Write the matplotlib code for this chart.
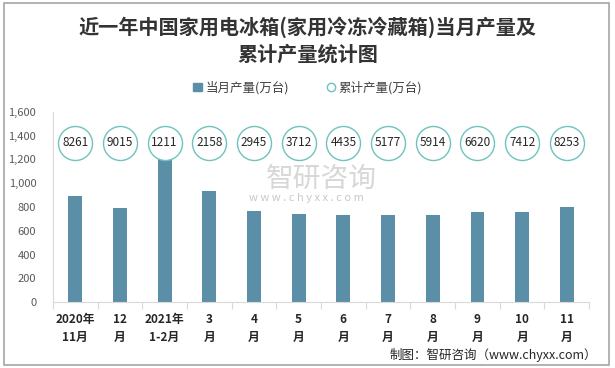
import matplotlib.pyplot as plt
from matplotlib.patches import Rectangle
from matplotlib.lines import Line2D
from matplotlib.ticker import FuncFormatter

plt.rcParams['font.family'] = ['Noto Sans CJK SC', 'DejaVu Sans']

# Data
months = ["2020年\n11月", "12\n月", "2021年\n1-2月", "3\n月", "4\n月", "5\n月",
          "6\n月", "7\n月", "8\n月", "9\n月", "10\n月", "11\n月"]
monthly = [893, 792, 1211, 937, 766, 741, 733, 733, 733, 758, 758, 800]
cumulative = [8261, 9015, 1211, 2158, 2945, 3712, 4435, 5177, 5914, 6620, 7412, 8253]

BAR_COLOR = "#5B8FA7"
RING_COLOR = "#6DC3BD"
RING_Y = 1340

fig = plt.figure(figsize=(6.15, 3.68), dpi=100)
ax = fig.add_axes([0.086, 0.179, 0.872, 0.517])

x = list(range(len(months)))
ax.bar(x, monthly, width=0.31, color=BAR_COLOR, zorder=2)

# Cumulative values shown as labelled rings
ax.plot(x, [RING_Y] * len(x), linestyle="none", marker="o", markersize=24.5,
        markerfacecolor="white", markeredgecolor=RING_COLOR, markeredgewidth=1.0, zorder=3)
for xi, v in zip(x, cumulative):
    ax.text(xi, RING_Y, str(v), ha="center", va="center", fontsize=8.5, color="#262626", zorder=4)

ax.set_xlim(-0.5, len(months) - 0.5)
ax.set_ylim(0, 1600)
ax.set_yticks(range(0, 1601, 200))
ax.yaxis.set_major_formatter(FuncFormatter(lambda v, p: f"{int(v):,}"))
ax.tick_params(axis="y", length=0, labelsize=8, labelcolor="#595959", pad=12)

# x ticks: marks at category boundaries, labels at centres
ax.set_xticks([i - 0.5 for i in range(len(months) + 1)])
ax.set_xticklabels([])
ax.tick_params(axis="x", which="major", length=5, color="#D9D9D9")
ax.set_xticks(x, minor=True)
ax.set_xticklabels(months, minor=True, fontsize=8.5, fontweight="bold", color="#262626",
                   linespacing=1.45)
ax.tick_params(axis="x", which="minor", length=0, pad=8)

for side in ["top", "right"]:
    ax.spines[side].set_visible(False)
ax.spines["left"].set_color("#D9D9D9")
ax.spines["bottom"].set_color("#D9D9D9")

# Title
fig.text(0.5, 0.889, "近一年中国家用电冰箱(家用冷冻冷藏箱)当月产量及\n累计产量统计图", ha="center",
         va="center", fontsize=14.5, fontweight="bold", color="#333333", linespacing=1.32)

# Legend
handles = [Rectangle((0, 0), 1, 1, color=BAR_COLOR),
           Line2D([], [], linestyle="none", marker="o", markersize=6,
                  markerfacecolor="white", markeredgecolor=RING_COLOR)]
fig.legend(handles, ["当月产量(万台)", "累计产量(万台)"], loc="center", bbox_to_anchor=(0.5, 0.762),
           ncol=2, frameon=False, fontsize=9, handlelength=0.7, handletextpad=0.3,
           columnspacing=3, labelcolor="#404040")

# Watermark
fig.text(0.522, 0.514, "智研咨询", ha="center", va="center", fontsize=20, color="#D0D0D0",
         alpha=0.85)
fig.text(0.499, 0.463, "w w w . c h y x x . c o m", ha="center", va="center", fontsize=8,
         color="#C8C8C8")

# Source
fig.text(0.971, 0.035, "制图：智研咨询（www.chyxx.com）", ha="right", va="center",
         fontsize=9, color="#262626")

# Outer border
fig.add_artist(Rectangle((0.006, 0.008), 0.985, 0.983, transform=fig.transFigure,
                         fill=False, edgecolor="#A6A6A6", linewidth=1.2))

fig.savefig("out.png", dpi=100)
